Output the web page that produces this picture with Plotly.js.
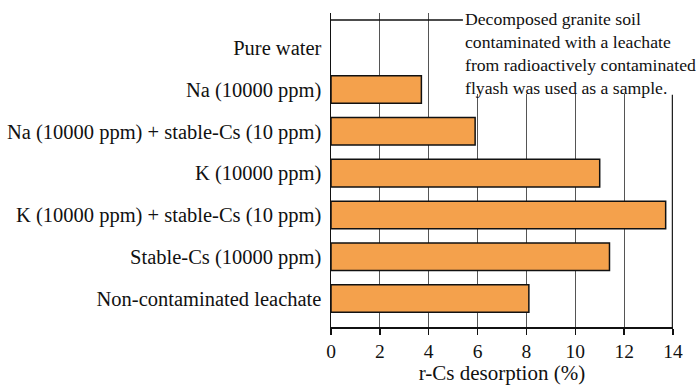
<!DOCTYPE html>
<html>
<head>
<meta charset="utf-8">
<script src="https://cdn.plot.ly/plotly-3.0.1.min.js"></script>
<style>html,body{margin:0;padding:0;background:#fff;}#chart{width:696px;height:385px;}</style>
</head>
<body>
<div id="chart"></div>
<script>
const categories = [
  "Pure water",
  "Na (10000 ppm)",
  "Na (10000 ppm) + stable-Cs (10 ppm)",
  "K (10000 ppm)",
  "K (10000 ppm) + stable-Cs (10 ppm)",
  "Stable-Cs (10000 ppm)",
  "Non-contaminated leachate"
];
const desorption = [0, 3.7, 5.9, 11.0, 13.7, 11.4, 8.1];
const xTicks = [0, 2, 4, 6, 8, 10, 12, 14];
const noteText = "Decomposed granite soil<br>contaminated with a leachate<br>from radioactively contaminated<br>flyash was used as a sample.";

const font = "Liberation Serif";

const trace = {
  type: "bar",
  orientation: "h",
  x: desorption,
  y: categories,
  marker: {color: "#F4A14C", line: {color: "#111", width: desorption.map(v => v > 0 ? 1.5 : 0)}},
  width: 0.66,
  hoverinfo: "none"
};

const layout = {
  width: 696, height: 385,
  margin: {l: 331, r: 23, t: 13, b: 58},
  paper_bgcolor: "#fff", plot_bgcolor: "#fff",
  showlegend: false,
  font: {family: font, size: 19, color: "#111"},
  xaxis: {
    range: [0, 14],
    tickvals: xTicks,
    ticktext: xTicks.map(String),
    showgrid: true, gridcolor: "#555", gridwidth: 1,
    zeroline: false,
    showline: true, linecolor: "#111", linewidth: 2,
    ticks: "outside", ticklen: 6, tickwidth: 1.5, tickcolor: "#111",
    tickfont: {family: font, size: 19.5, color: "#111"},
    title: {text: "r-Cs desorption (%)", font: {family: font, size: 21, color: "#111"}, standoff: 4}
  },
  yaxis: {
    type: "category",
    categoryorder: "array",
    categoryarray: categories,
    range: [6.68, -0.83],
    showgrid: false, zeroline: false,
    showline: true, linecolor: "#111", linewidth: 1.5,
    ticks: "", ticklabelstandoff: 4,
    tickfont: {family: font, size: 20.5, color: "#111"}
  },
  shapes: [
    {type: "line", xref: "x", yref: "paper", x0: 14, x1: 14, y0: 0, y1: 0.74, line: {color: "#222", width: 2.5}, layer: "above"},
    {type: "rect", xref: "x", yref: "paper", x0: 5.45, x1: 14.6, y0: 0.742, y1: 1.02, fillcolor: "#fff", line: {width: 0}, layer: "above"},
    {type: "line", xref: "x", yref: "paper", x0: 0, x1: 5.4, y0: 0.978, y1: 0.978, line: {color: "#111", width: 1.5}, layer: "above"}
  ],
  annotations: [{
    xref: "x", yref: "paper", x: 5.4, y: 1.02,
    xanchor: "left", yanchor: "top", align: "left",
    text: noteText, showarrow: false,
    font: {family: font, size: 17.7, color: "#111"}
  }]
};

Plotly.newPlot("chart", [trace], layout, {displayModeBar: false, staticPlot: true});
</script>
</body>
</html>
